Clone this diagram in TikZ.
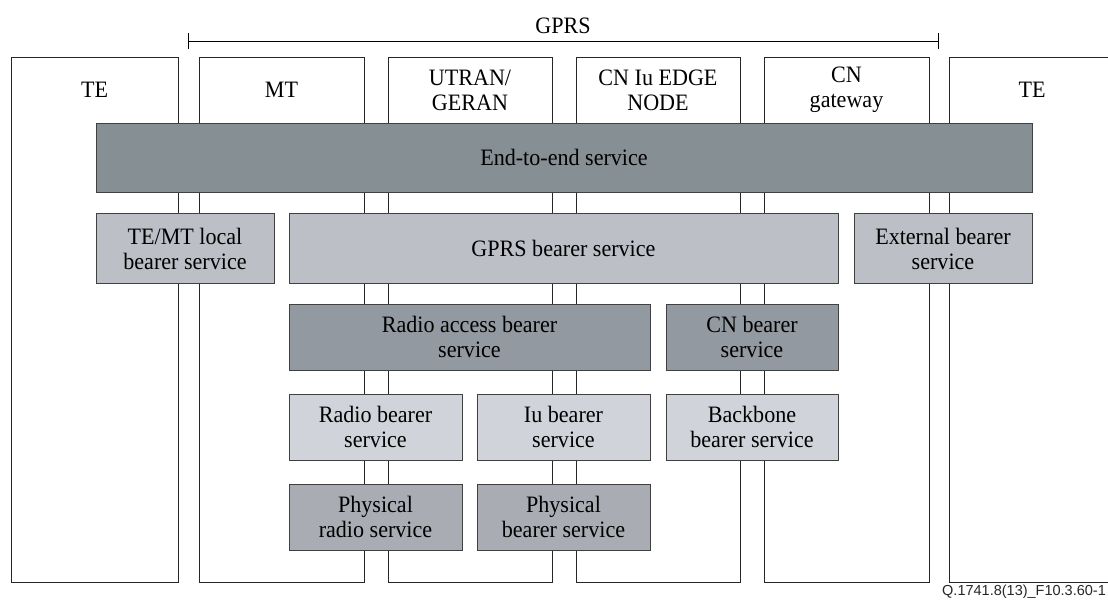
\documentclass[tikz,border=0pt]{standalone}
\usepackage{fontspec}
\setmainfont{Liberation Serif}[FakeStretch=0.94]
\newfontfamily\figsans{Liberation Sans}
\definecolor{cendtoend}{RGB}{134,143,148}
\definecolor{clevtwo}{RGB}{188,191,198}
\definecolor{clevthree}{RGB}{147,153,160}
\definecolor{clevfour}{RGB}{208,212,218}
\definecolor{clevfive}{RGB}{169,172,178}
\begin{document}
\begin{tikzpicture}[x=1pt,y=-1pt,
  col/.style={draw=black!85, line width=0.9pt},
  svc/.style={draw=black!75, line width=1pt, inner sep=0pt, outer sep=0pt,
    align=center, font=\fontsize{23.5}{25}\selectfont},
  lbl/.style={align=center, inner sep=0pt, font=\fontsize{23.5}{25}\selectfont},
  bracketline/.style={draw=black, line width=0.9pt}]
\useasboundingbox (0,0) rectangle (1108,600);
\clip (0,0) rectangle (1108,600);
% columns
\draw[col] (11,57) rectangle (178,582);
\draw[col] (199,57) rectangle (364,582);
\draw[col] (388,57) rectangle (552,582);
\draw[col] (576,57) rectangle (740,582);
\draw[col] (764,57) rectangle (929,582);
\draw[col] (949,57) rectangle (1120,582);
% column labels
\node[lbl] (te1) at (94.5,90) {TE};
\node[lbl] (mt) at (281.5,90) {MT};
\node[lbl] (utran) at (470,90) {UTRAN/\\GERAN};
\node[lbl] (cniu) at (658,90) {CN Iu EDGE\\NODE};
\node[lbl] (cngw) at (846.5,90) {CN\\gateway};
\node[lbl] (te2) at (1032,90) {TE};
% GPRS bracket
\coordinate (gl) at (188,41);
\coordinate (gr) at (938,41);
\draw[bracketline] (gl) -- (gr);
\draw[bracketline] ([yshift=-8pt]gl) -- ([yshift=8pt]gl);
\draw[bracketline] ([yshift=-8pt]gr) -- ([yshift=8pt]gr);
\node[lbl] (gprs) at (563,25.5) {GPRS};
% services
\node[svc, fill=cendtoend, minimum width=936pt, minimum height=69pt] (e2e) at (564,157.5) {End-to-end service};
\node[svc, fill=clevtwo, minimum width=178pt, minimum height=70pt] (temt) at (185,248.5) {TE/MT local\\bearer service};
\node[svc, fill=clevtwo, minimum width=549pt, minimum height=70pt] (gprsb) at (563.5,248.5) {GPRS bearer service};
\node[svc, fill=clevtwo, minimum width=178pt, minimum height=70pt] (extb) at (943,248.5) {External bearer\\service};
\node[svc, fill=clevthree, minimum width=361pt, minimum height=66pt] (rab) at (469.5,337) {Radio access bearer\\service};
\node[svc, fill=clevthree, minimum width=172pt, minimum height=66pt] (cnb) at (752,337) {CN bearer\\service};
\node[svc, fill=clevfour, minimum width=173pt, minimum height=66pt] (rb) at (375.5,427) {Radio bearer\\service};
\node[svc, fill=clevfour, minimum width=173pt, minimum height=66pt] (iub) at (563.5,427) {Iu bearer\\service};
\node[svc, fill=clevfour, minimum width=172pt, minimum height=66pt] (bbb) at (752,427) {Backbone\\bearer service};
\node[svc, fill=clevfive, minimum width=173pt, minimum height=66pt] (prs) at (375.5,517) {Physical\\radio service};
\node[svc, fill=clevfive, minimum width=173pt, minimum height=66pt] (pbs) at (563.5,517) {Physical\\bearer service};
% figure id
\node[anchor=base west, inner sep=0pt, font=\figsans\fontsize{14.5}{16}\selectfont, text=black!85] (figid) at (942,595) {Q.1741.8(13)\_F10.3.60-1};
\end{tikzpicture}
\end{document}
